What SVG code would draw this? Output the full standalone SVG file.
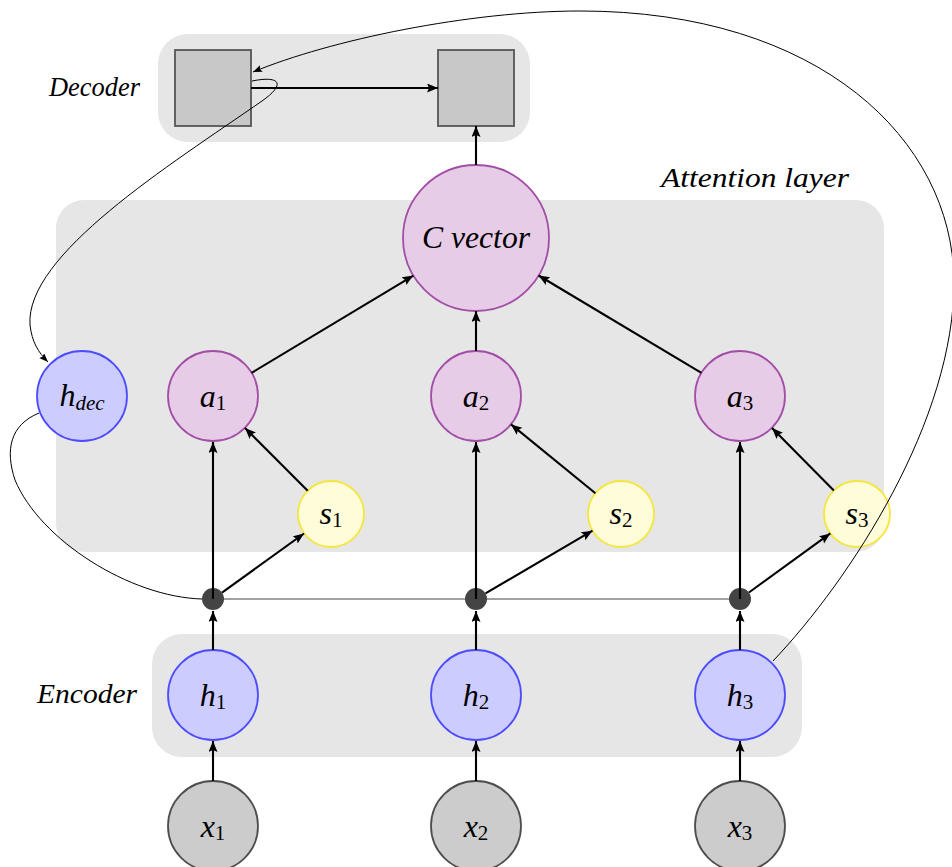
<svg xmlns="http://www.w3.org/2000/svg" width="952" height="867" viewBox="0 0 952 867">
<style>
.box{fill:#e6e6e6}
.purple{fill:#e6cce6;stroke:#a24ea6;stroke-width:1.8}
.blue{fill:#ccccff;stroke:#4d4dff;stroke-width:1.8}
.yellow{fill:#fffcd9;stroke:#f5e63d;stroke-width:1.8}
.gray{fill:#cccccc;stroke:#4d4d4d;stroke-width:1.8}
.sq{fill:#c8c8c8;stroke:#555555;stroke-width:1.8}
.dot{fill:#444444}
text{font-family:'Liberation Serif','Times New Roman',serif;font-style:italic;fill:#000}
.lbl{font-size:32px}
.sub{font-size:21px;font-style:normal}
.subi{font-size:21px;font-style:italic}
.cap{font-size:27px}
.arr{stroke:#000;stroke-width:2.1;fill:none;marker-end:url(#ah)}
.thin{stroke:#000;stroke-width:1;fill:none}
.thinarr{stroke:#000;stroke-width:1;fill:none;marker-end:url(#ahs)}
.hline{stroke:#444;stroke-width:1.2;fill:none}
</style>
<defs>
<marker id="ah" markerUnits="userSpaceOnUse" markerWidth="12" markerHeight="10" refX="11" refY="4.5" orient="auto">
<path d="M0,0 L11,4.5 L0,9 L2,4.5 z" fill="#000"/>
</marker>
<marker id="ahs" markerUnits="userSpaceOnUse" markerWidth="10" markerHeight="8" refX="9" refY="3.5" orient="auto">
<path d="M0,0 L9,3.5 L0,7 L1.5,3.5 z" fill="#000"/>
</marker>
</defs>

<g id="backgrounds">
<rect id="decoder-box" class="box" x="158" y="34" width="372" height="108" rx="30"/>
<rect id="attention-box" class="box" x="56" y="200" width="828" height="352" rx="28"/>
<rect id="encoder-box" class="box" x="152" y="634" width="650" height="123" rx="30"/>
</g>

<g id="captions">
<text class="cap" x="49" y="96" textLength="91" lengthAdjust="spacingAndGlyphs">Decoder</text>
<text class="cap" x="661" y="187" textLength="188" lengthAdjust="spacingAndGlyphs">Attention layer</text>
<text class="cap" x="37" y="703" textLength="100" lengthAdjust="spacingAndGlyphs">Encoder</text>
</g>

<path id="hline" class="hline" d="M213,599 L740,599"/>

<g id="dec1"><rect class="sq" x="175" y="50" width="76" height="76"/></g>
<g id="dec2"><rect class="sq" x="438" y="50" width="76" height="76"/></g>

<g id="cvec"><circle class="purple" cx="476" cy="238" r="73"/><text class="lbl" x="476" y="248" text-anchor="middle" textLength="108" lengthAdjust="spacingAndGlyphs">C vector</text></g>

<g id="hdec"><circle class="blue" cx="82" cy="396" r="45"/><text class="lbl" x="82" y="406" text-anchor="middle">h<tspan class="subi" dy="4">dec</tspan></text></g>

<g id="a1"><circle class="purple" cx="213" cy="396" r="45"/><text class="lbl" x="213" y="407" text-anchor="middle">a<tspan class="sub" dy="3">1</tspan></text></g>
<g id="a2"><circle class="purple" cx="476" cy="396" r="45"/><text class="lbl" x="476" y="407" text-anchor="middle">a<tspan class="sub" dy="3">2</tspan></text></g>
<g id="a3"><circle class="purple" cx="740" cy="396" r="45"/><text class="lbl" x="740" y="407" text-anchor="middle">a<tspan class="sub" dy="3">3</tspan></text></g>

<g id="s1"><circle class="yellow" cx="331" cy="514" r="33"/><text class="lbl" x="331" y="524" text-anchor="middle">s<tspan class="sub" dy="3">1</tspan></text></g>
<g id="s2"><circle class="yellow" cx="621" cy="514" r="33"/><text class="lbl" x="621" y="524" text-anchor="middle">s<tspan class="sub" dy="3">2</tspan></text></g>
<g id="s3"><circle class="yellow" cx="857" cy="514" r="33"/><text class="lbl" x="857" y="524" text-anchor="middle">s<tspan class="sub" dy="3">3</tspan></text></g>

<g id="j1"><circle class="dot" cx="213" cy="599" r="11"/></g>
<g id="j2"><circle class="dot" cx="476" cy="599" r="11"/></g>
<g id="j3"><circle class="dot" cx="740" cy="599" r="11"/></g>

<g id="h1"><circle class="blue" cx="213" cy="695" r="45"/><text class="lbl" x="213" y="706" text-anchor="middle">h<tspan class="sub" dy="3">1</tspan></text></g>
<g id="h2"><circle class="blue" cx="476" cy="695" r="45"/><text class="lbl" x="476" y="706" text-anchor="middle">h<tspan class="sub" dy="3">2</tspan></text></g>
<g id="h3"><circle class="blue" cx="740" cy="695" r="45"/><text class="lbl" x="740" y="706" text-anchor="middle">h<tspan class="sub" dy="3">3</tspan></text></g>

<g id="x1"><circle class="gray" cx="213" cy="826" r="45"/><text class="lbl" x="213" y="837" text-anchor="middle">x<tspan class="sub" dy="3">1</tspan></text></g>
<g id="x2"><circle class="gray" cx="476" cy="826" r="45"/><text class="lbl" x="476" y="837" text-anchor="middle">x<tspan class="sub" dy="3">2</tspan></text></g>
<g id="x3"><circle class="gray" cx="740" cy="826" r="45"/><text class="lbl" x="740" y="837" text-anchor="middle">x<tspan class="sub" dy="3">3</tspan></text></g>

<g id="connectors">
<path class="arr" d="M213,781 L213,741"/>
<path class="arr" d="M476,781 L476,741"/>
<path class="arr" d="M740,781 L740,741"/>
<path class="arr" d="M213,650 L213,611"/>
<path class="arr" d="M476,650 L476,611"/>
<path class="arr" d="M740,650 L740,611"/>
<path class="arr" d="M213,599 L213,442"/>
<path class="arr" d="M476,599 L476,442"/>
<path class="arr" d="M740,599 L740,442"/>
<path class="arr" d="M222,592.6 L304,533.5"/>
<path class="arr" d="M485.5,593.4 L592.5,530.7"/>
<path class="arr" d="M748.9,592.5 L830.3,533.4"/>
<path class="arr" d="M307.7,490.7 L245,428"/>
<path class="arr" d="M595.4,493.2 L511,424.4"/>
<path class="arr" d="M833.8,490.6 L772,428"/>
<path class="arr" d="M251.6,372.8 L413.4,275.6"/>
<path class="arr" d="M476,351 L476,311"/>
<path class="arr" d="M701.4,372.9 L538.6,275.5"/>
<path class="arr" d="M476,165 L476,126"/>
<path class="arr" d="M251,88 L438,88"/>
<path class="thinarr" d="M252,81 C282,75 285,85 262,101 C170,165 25,255 30,325 C32,342 38,352 48,362"/>
<path class="thin" d="M39,413 C10,425 5,450 15,480 C40,540 130,597 202,599"/>
<path class="thinarr" d="M773,661 C850,580 955,420 954,280 C952,140 820,11 580,11 C470,11 330,40 253,72"/>
</g>
</svg>
